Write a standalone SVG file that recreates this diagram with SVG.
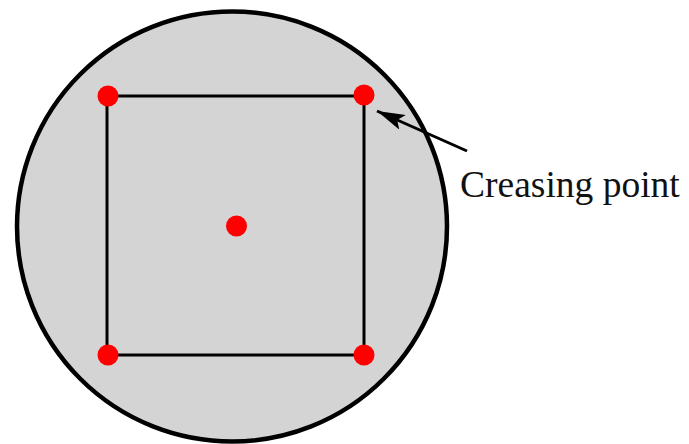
<svg xmlns="http://www.w3.org/2000/svg" width="689" height="444" viewBox="0 0 689 444">
<style>
.dot{fill:#ff0000}
.edge{stroke:#000;stroke-width:3;fill:none}
</style>
<defs>
<marker id="ah" markerUnits="userSpaceOnUse" markerWidth="30" markerHeight="16" refX="28" refY="8" orient="auto">
<path d="M0,0 L28,8 L0,16 L6,8 Z" fill="#000"/>
</marker>
</defs>
<rect width="689" height="444" fill="#fff"/>
<g id="disc"><circle cx="232" cy="226.5" r="215" fill="#d4d4d4" stroke="#000" stroke-width="4.5"/></g>
<g id="connectors">
<rect class="edge" x="107" y="96" width="257" height="259"/>
<line x1="467" y1="151" x2="377" y2="111" stroke="#000" stroke-width="3" marker-end="url(#ah)"/>
</g>
<g id="tl"><circle class="dot" cx="108" cy="96" r="10.5"/></g>
<g id="tr"><circle class="dot" cx="364" cy="95" r="10.5"/></g>
<g id="bl"><circle class="dot" cx="108" cy="355" r="10.5"/></g>
<g id="br"><circle class="dot" cx="364" cy="355" r="10.5"/></g>
<g id="center"><circle class="dot" cx="236.5" cy="226" r="10.5"/></g>
<g id="label"><text x="460" y="197" font-family="Liberation Serif, serif" font-size="37.5" fill="#111">Creasing point</text></g>
</svg>
